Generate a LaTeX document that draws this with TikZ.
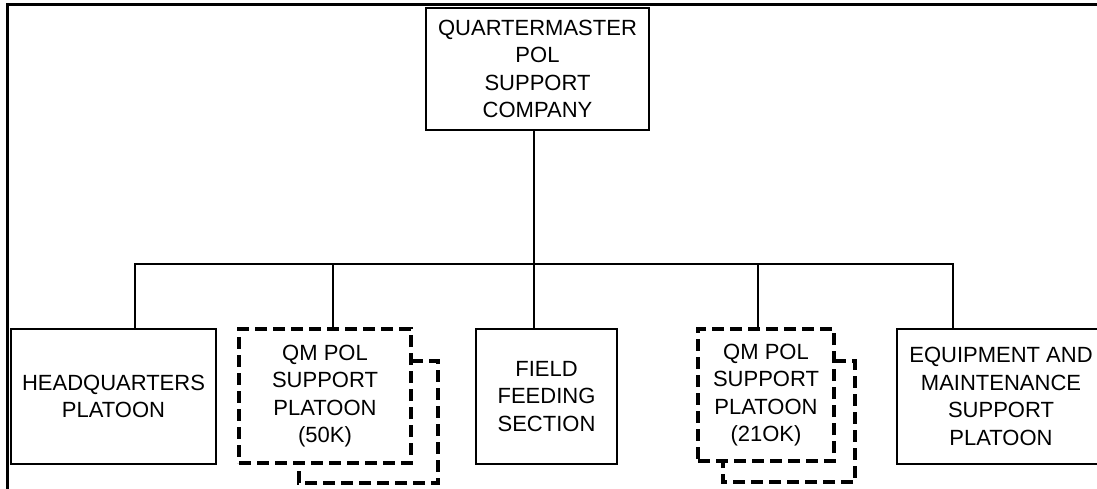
\documentclass[tikz,border=0pt]{standalone}
\usepackage{fontspec}
\setmainfont{Liberation Sans}
\begin{document}
\begin{tikzpicture}[x=1pt,y=-1pt,
  every node/.style={font=\fontsize{22}{27.5}\selectfont, align=center, inner sep=0pt, outer sep=0pt},
  unit/.style={draw, line width=2.3pt, rectangle},
  dunit/.style={draw, line width=3.6pt, rectangle, dash pattern=on 12pt off 6pt},
  dback/.style={line width=3.6pt, dash pattern=on 12pt off 6pt},
  conn/.style={line width=1.3pt},
  frame/.style={line width=3.5pt}]
\useasboundingbox (0,0) rectangle (1097,488);
\clip (0,0) rectangle (1097,488);
% frame
\draw[frame] (7.7,490) -- (7.7,4.5) -- (1100,4.5);
% nodes
\node[unit, minimum width=223pt, minimum height=122pt] (top) at (537.5,69) {QUARTERMASTER\\POL\\SUPPORT\\COMPANY};
\node[unit, minimum width=205pt, minimum height=135pt] (hq) at (113.5,396.5) {HEADQUARTERS\\PLATOON};
\node[dunit, minimum width=172pt, minimum height=134pt] (qa) at (325,396) {QM POL\\SUPPORT\\PLATOON\\(50K)};
\node[unit, minimum width=141pt, minimum height=135pt] (ff) at (546.5,396.5) {FIELD\\FEEDING\\SECTION};
\node[dunit, minimum width=136pt, minimum height=132pt] (qb) at (766,395) {QM POL\\SUPPORT\\PLATOON\\(21OK)};
\node[unit, minimum width=208pt, minimum height=135pt] (eq) at (1001,396.5) {EQUIPMENT AND\\MAINTENANCE\\SUPPORT\\PLATOON};
% back dashed boxes
\coordinate (qaback) at (438,483);
\draw[dback] (qa.east |- 0,361) -- (438,361) -- (qaback) -- (299,483) -- (299,463);
\coordinate (qbback) at (855,482);
\draw[dback] (qb.east |- 0,361) -- (855,361) -- (qbback) -- (723,482) -- (723,461);
% connectors
\coordinate (j) at (534,264);
\coordinate (b1) at (135,264);
\coordinate (b2) at (333,264);
\coordinate (b4) at (758,264);
\coordinate (b5) at (953,264);
\draw[conn] (j |- top.south) -- (j);
\draw[conn] (b1 |- hq.north) -- (b1) -- (b5) -- (b5 |- eq.north);
\draw[conn] (b2) -- (b2 |- qa.north);
\draw[conn] (j) -- (j |- ff.north);
\draw[conn] (b4) -- (b4 |- qb.north);
\end{tikzpicture}
\end{document}
